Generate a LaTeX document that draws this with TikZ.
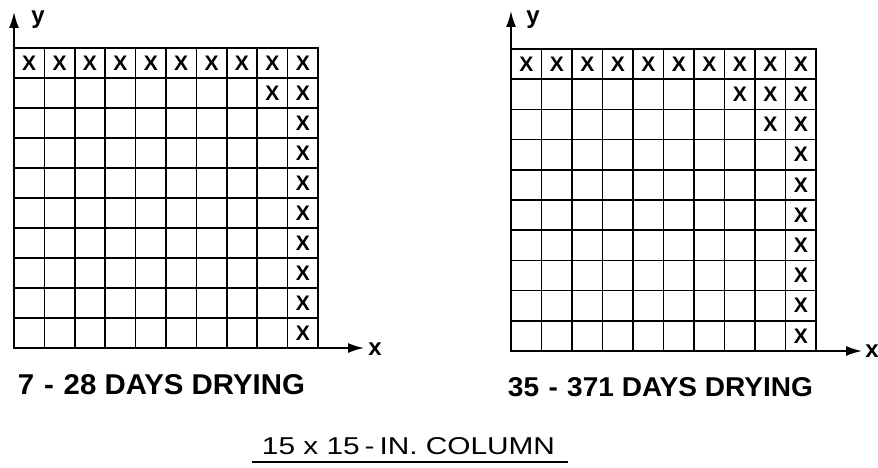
\documentclass[tikz,border=0pt]{standalone}
\usepackage{fontspec}
\setmainfont{Liberation Sans}
\usetikzlibrary{arrows.meta}
\tikzset{
  gridline/.style={line width=1.7pt, line cap=rect},
  axisline/.style={line width=1.7pt, -{Latex[length=16pt,width=10pt]}},
  cellx/.style={inner sep=0pt, font=\fontsize{21}{21}\selectfont\bfseries},
  axislabel/.style={inner sep=0pt, font=\fontsize{24}{24}\selectfont\bfseries},
  caption/.style={inner sep=0pt, font=\bfseries},
  titletext/.style={inner sep=0pt}
}
\begin{document}
\begin{tikzpicture}[x=1pt,y=-1pt]
\useasboundingbox (0,0) rectangle (878,468);
% ---------- left grid ----------
\begin{scope}[shift={(14,48)}, x=30.4pt, y=-30pt]
  \foreach \i in {0,...,10} {
    \draw[gridline] (\i,0) -- (\i,10);
    \draw[gridline] (0,\i) -- (10,\i);
  }
  \foreach \c in {1,...,10} { \node[cellx] (LX1-\c) at (\c-0.5,0.5) {X}; }
  \node[cellx] (LX2-9) at (8.5,1.5) {X};
  \foreach \r in {2,...,10} { \node[cellx] (LX\r-10) at (9.5,\r-0.5) {X}; }
\end{scope}
\coordinate (Ltl) at (14,48);
\coordinate (Lytip) at (14,12);
\coordinate (Lbr) at (318,348);
\coordinate (Lxtip) at (364,348);
\draw[axisline] (Ltl) -- (Lytip);
\draw[axisline] (Lbr) -- (Lxtip);
\node[axislabel] (Ly) at (38,20) {y};
\node[axislabel] (Lx) at (375,349) {x};
% ---------- right grid ----------
\begin{scope}[shift={(511,49)}, x=30.5pt, y=-30.2pt]
  \foreach \i in {0,...,10} {
    \draw[gridline] (\i,0) -- (\i,10);
    \draw[gridline] (0,\i) -- (10,\i);
  }
  \foreach \c in {1,...,10} { \node[cellx] (RX1-\c) at (\c-0.5,0.5) {X}; }
  \foreach \c in {8,9} { \node[cellx] (RX2-\c) at (\c-0.5,1.5) {X}; }
  \node[cellx] (RX3-9) at (8.5,2.5) {X};
  \foreach \r in {2,...,10} { \node[cellx] (RX\r-10) at (9.5,\r-0.5) {X}; }
\end{scope}
\coordinate (Rtl) at (511,49);
\coordinate (Rytip) at (511,11);
\coordinate (Rbr) at (816,351);
\coordinate (Rxtip) at (862,351);
\draw[axisline] (Rtl) -- (Rytip);
\draw[axisline] (Rbr) -- (Rxtip);
\node[axislabel] (Ry) at (533,20) {y};
\node[axislabel] (Rx) at (872,351) {x};
% ---------- captions ----------
\node[caption] (capL) at (161.5,385) {\resizebox{287pt}{20pt}{7\,\,-\,\,28 DAYS DRYING}};
\node[caption] (capR) at (660.5,387.5) {\resizebox{305pt}{19pt}{35\,\,-\,\,371 DAYS DRYING}};
\node[titletext] (title) at (408.5,446.5) {\resizebox{293pt}{17pt}{15 x 15\,-\,IN. COLUMN}};
\coordinate (ulA) at (252,462);
\coordinate (ulB) at (568,462);
\draw[line width=1.6pt] (ulA) -- (ulB);
\end{tikzpicture}
\end{document}
